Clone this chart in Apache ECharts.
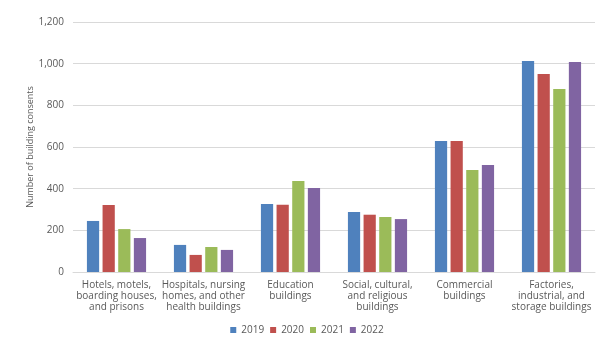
<!DOCTYPE html>
<html>
<head>
<meta charset="utf-8">
<script src="https://cdn.jsdelivr.net/npm/echarts@6/dist/echarts.min.js"></script>
<style>html,body{margin:0;padding:0;background:#fff;}#c{width:614px;height:345px;}</style>
</head>
<body>
<div id="c"></div>
<script>
const categories = [
  "Hotels, motels,\nboarding houses,\nand prisons",
  "Hospitals, nursing\nhomes, and other\nhealth buildings",
  "Education\nbuildings",
  "Social, cultural,\nand religious\nbuildings",
  "Commercial\nbuildings",
  "Factories,\nindustrial, and\nstorage buildings"
];
const years = ["2019", "2020", "2021", "2022"];
const v2019 = [245, 130, 326, 288, 629, 1013];
const v2020 = [322, 82, 323, 275, 629, 950];
const v2021 = [206, 120, 437, 264, 490, 878];
const v2022 = [163, 106, 403, 254, 514, 1008];
const colors = ["#4F81BD", "#C0504D", "#9BBB59", "#8064A2"];
const font = "'Open Sans', sans-serif";
const chart = echarts.init(document.getElementById('c'));
const seriesData = [v2019, v2020, v2021, v2022];
chart.setOption({
  animation: false,
  color: colors,
  textStyle: { fontFamily: font },
  grid: { left: 73, right: 19, top: 22, bottom: 73 },
  legend: {
    data: years, bottom: 5, left: 'center',
    itemWidth: 6, itemHeight: 6, itemGap: 6, icon: 'rect',
    textStyle: { color: '#595959', fontSize: 10, fontFamily: font }
  },
  xAxis: {
    type: 'category', data: categories,
    axisLine: { lineStyle: { color: '#d9d9d9' } },
    axisTick: { show: false },
    axisLabel: { color: '#595959', fontSize: 10, lineHeight: 11, margin: 8, interval: 0, fontFamily: font }
  },
  yAxis: {
    type: 'value', min: 0, max: 1200, interval: 200,
    name: 'Number of building consents', nameLocation: 'middle', nameGap: 38,
    nameMoveOverlap: false,
    nameTextStyle: { color: '#595959', fontSize: 9, fontFamily: font },
    axisLine: { show: false }, axisTick: { show: false },
    axisLabel: { color: '#595959', fontSize: 10, margin: 9, fontFamily: font,
      formatter: v => v.toLocaleString('en-US') },
    splitLine: { lineStyle: { color: '#d9d9d9' } }
  },
  series: years.map((y, i) => ({
    name: y, type: 'bar', data: seriesData[i],
    barCategoryGap: '32%', barGap: '28%'
  }))
});
</script>
</body>
</html>
